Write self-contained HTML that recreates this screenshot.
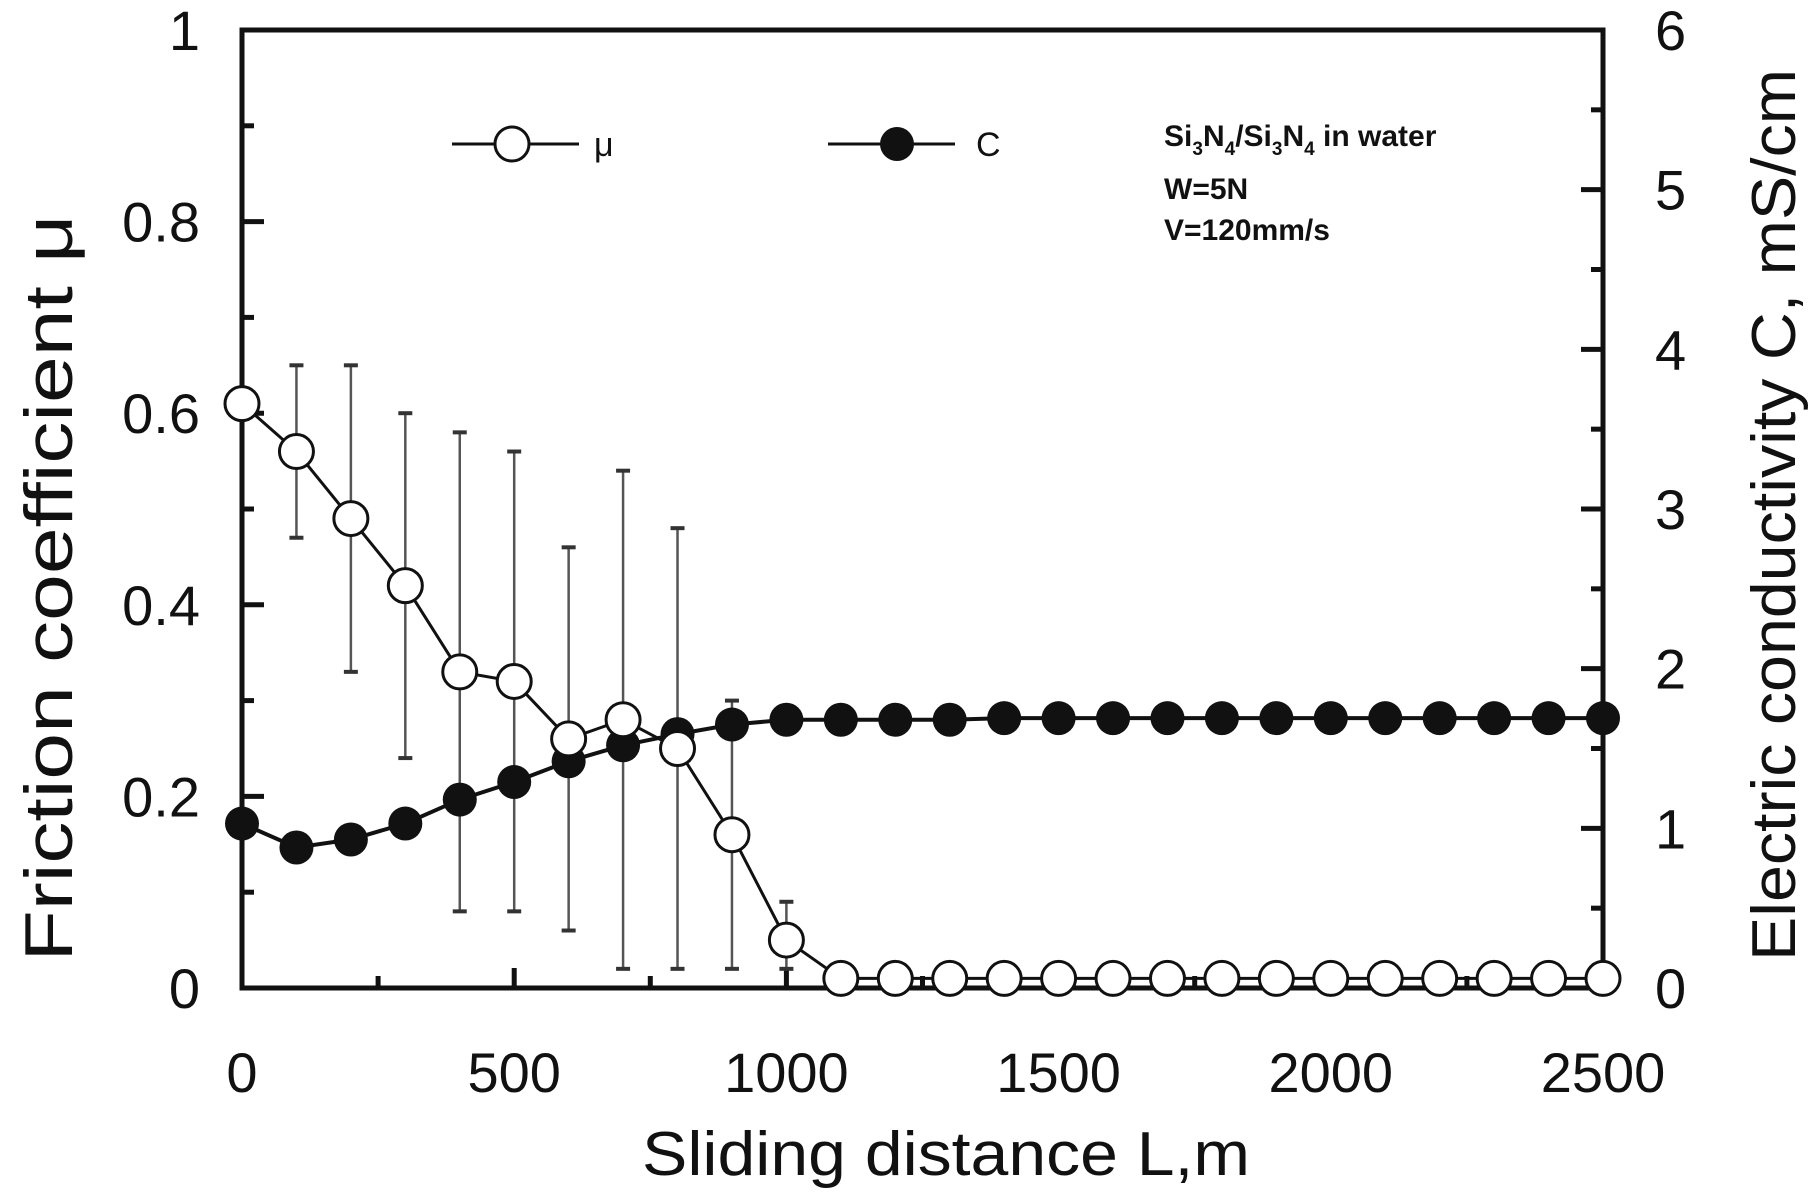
<!DOCTYPE html>
<html><head><meta charset="utf-8">
<style>
html,body{margin:0;padding:0;background:#fff;}
svg{display:block;}
text{font-family:"Liberation Sans",sans-serif;fill:#111;}
</style></head>
<body>
<svg id="chart" width="1816" height="1200" viewBox="0 0 1816 1200">
<g id="axes"></g>
<g id="errs"></g>
<g id="cser"></g>
<g id="museries"></g>
<g>
  <line x1="452" y1="144" x2="579" y2="144" stroke="#111" stroke-width="3"/>
  <circle cx="512" cy="144" r="17" fill="#fff" stroke="#111" stroke-width="3"/>
  <text x="594" y="156" font-size="34">μ</text>
  <line x1="828" y1="144" x2="955" y2="144" stroke="#111" stroke-width="3"/>
  <circle cx="897" cy="144" r="17" fill="#111"/>
  <text x="976" y="156" font-size="34">C</text>
</g>
<g>
  <text x="1164" y="146" font-size="30" font-weight="bold">Si<tspan font-size="19" dy="9">3</tspan><tspan dy="-9">N</tspan><tspan font-size="19" dy="9">4</tspan><tspan dy="-9">/Si</tspan><tspan font-size="19" dy="9">3</tspan><tspan dy="-9">N</tspan><tspan font-size="19" dy="9">4</tspan><tspan dy="-9"> in water</tspan></text>
  <text x="1164" y="199" font-size="30" font-weight="bold">W=5N</text>
  <text x="1164" y="240" font-size="30" font-weight="bold">V=120mm/s</text>
</g>
<text transform="translate(72,588) rotate(-90)" text-anchor="middle" font-size="68" textLength="747" lengthAdjust="spacingAndGlyphs">Friction coefficient μ</text>
<text transform="translate(1795,515) rotate(-90)" text-anchor="middle" font-size="62" textLength="892" lengthAdjust="spacingAndGlyphs">Electric conductivity C, mS/cm</text>
<text x="946" y="1175" text-anchor="middle" font-size="62" textLength="608" lengthAdjust="spacingAndGlyphs">Sliding distance L,m</text>
</svg>
<script>
const xs = [0,100,200,300,400,500,600,700,800,900,1000,1100,1200,1300,1400,1500,1600,1700,1800,1900,2000,2100,2200,2300,2400,2500];
const muVals = [0.61,0.56,0.49,0.42,0.33,0.32,0.26,0.28,0.25,0.16,0.05,0.01,0.01,0.01,0.01,0.01,0.01,0.01,0.01,0.01,0.01,0.01,0.01,0.01,0.01,0.01];
const errX = [100,200,300,400,500,600,700,800,900,1000];
const errLo = [0.47,0.33,0.24,0.08,0.08,0.06,0.02,0.02,0.02,0.02];
const errHi = [0.65,0.65,0.60,0.58,0.56,0.46,0.54,0.48,0.30,0.09];
const cVals = [1.03,0.88,0.93,1.03,1.18,1.29,1.42,1.52,1.59,1.65,1.68,1.68,1.68,1.68,1.69,1.69,1.69,1.69,1.69,1.69,1.69,1.69,1.69,1.69,1.69,1.69];
const xTicks = [0,500,1000,1500,2000,2500];
const yLeftTicks = [0,0.2,0.4,0.6,0.8,1];
const yLeftLabels = ['0','0.2','0.4','0.6','0.8','1'];
const yRightTicks = [0,1,2,3,4,5,6];

const X0=242,X1=1603,Y0=988,Y1=30;
function sx(v){return X0+(v/2500)*(X1-X0);}
function syL(v){return Y0-v*(Y0-Y1);}
function syR(v){return Y0-(v/6)*(Y0-Y1);}
const NS='http://www.w3.org/2000/svg';
function mk(tag,attrs,parent){const e=document.createElementNS(NS,tag);for(const k in attrs)e.setAttribute(k,attrs[k]);parent.appendChild(e);return e;}

const axes=document.getElementById('axes');
const frame=mk('rect',{x:X0,y:Y1,width:X1-X0,height:Y0-Y1,fill:'none',stroke:'#111','stroke-width':5},axes);


for(let v=0;v<=2500;v+=250){
  const len=(v%500===0)?20:12;
  const t=mk('line',{x1:sx(v),x2:sx(v),y1:Y0,y2:Y0-len,stroke:'#111','stroke-width':5},axes);
  
  
}
xTicks.forEach(v=>{
  const t=mk('text',{x:sx(v),y:1092,'text-anchor':'middle','font-size':56},axes);
  t.textContent=String(v);
  
  
});
for(let i=0;i<=10;i++){
  const v=i/10;const len=(i%2===0)?22:12;
  const t=mk('line',{x1:X0,x2:X0+len,y1:syL(v),y2:syL(v),stroke:'#111','stroke-width':5},axes);
  
  
}
yLeftTicks.forEach((v,i)=>{
  const t=mk('text',{x:200,y:syL(v)+20,'text-anchor':'end','font-size':56},axes);
  t.textContent=yLeftLabels[i];
  
  
});
for(let i=0;i<=12;i++){
  const v=i/2;const len=(i%2===0)?22:12;
  const t=mk('line',{x1:X1,x2:X1-len,y1:syR(v),y2:syR(v),stroke:'#111','stroke-width':5},axes);
  
  
}
yRightTicks.forEach(v=>{
  const t=mk('text',{x:1655,y:syR(v)+20,'font-size':56},axes);
  t.textContent=String(v);
  
  
});
const errs=document.getElementById('errs');
errX.forEach((x,i)=>{
  const cx=sx(x);
  const l=mk('line',{x1:cx,x2:cx,y1:syL(errLo[i]),y2:syL(errHi[i]),stroke:'#555','stroke-width':2.5},errs);
  
  
  [errLo[i],errHi[i]].forEach(v=>{
    const c=mk('line',{x1:cx-7,x2:cx+7,y1:syL(v),y2:syL(v),stroke:'#333','stroke-width':4},errs);
    
    
  });
});
const cser=document.getElementById('cser');
const cl=mk('polyline',{points:xs.map((x,i)=>sx(x)+','+syR(cVals[i])).join(' '),fill:'none',stroke:'#111','stroke-width':4},cser);


xs.forEach((x,i)=>{
  const p=mk('circle',{cx:sx(x),cy:syR(cVals[i]),r:17,fill:'#111'},cser);
  
  
});
const ms=document.getElementById('museries');
const ml=mk('polyline',{points:xs.map((x,i)=>sx(x)+','+syL(muVals[i])).join(' '),fill:'none',stroke:'#111','stroke-width':3},ms);


xs.forEach((x,i)=>{
  const p=mk('circle',{cx:sx(x),cy:syL(muVals[i]),r:17,fill:'#fff',stroke:'#111','stroke-width':3},ms);
  
  
});
</script>
</body></html>
